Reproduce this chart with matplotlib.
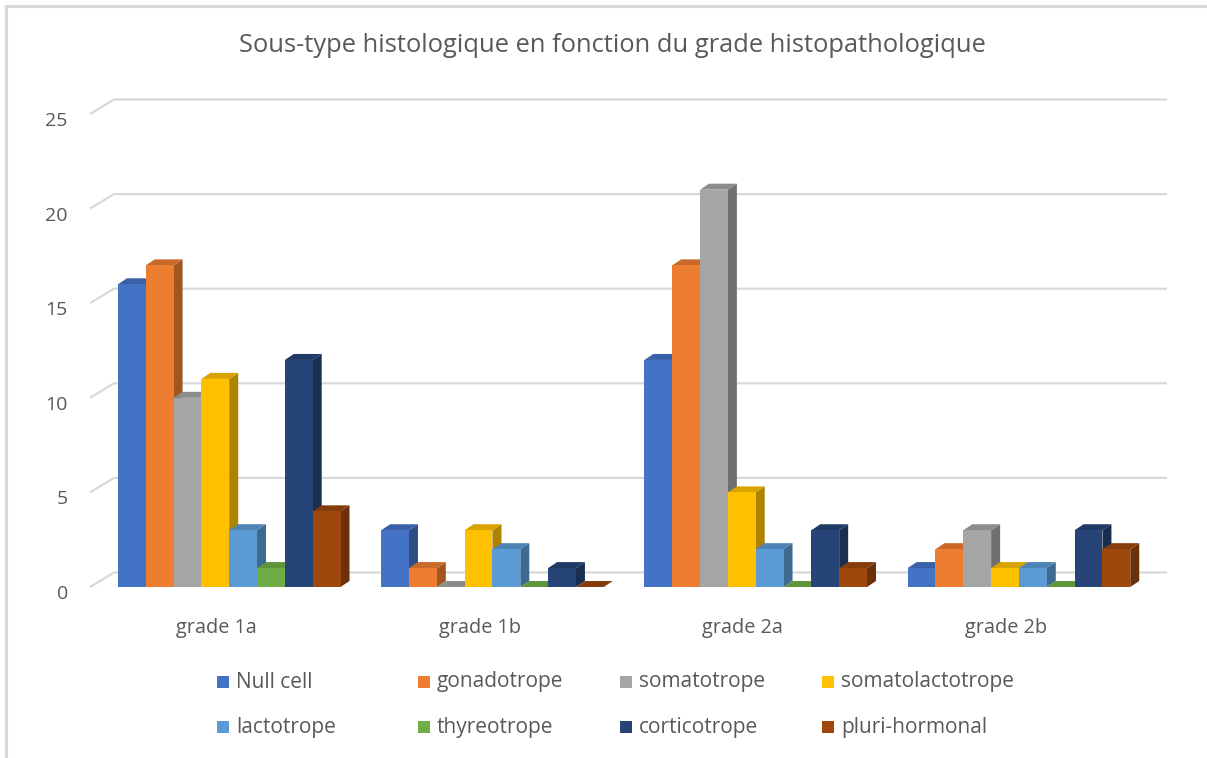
import matplotlib
matplotlib.use("Agg")
import matplotlib.pyplot as plt
from matplotlib.patches import Polygon, Rectangle
from matplotlib.lines import Line2D
import matplotlib.colors as mcolors
import matplotlib.transforms as mtransforms

categories = ["grade 1a", "grade 1b", "grade 2a", "grade 2b"]
series = ["Null cell", "gonadotrope", "somatotrope", "somatolactotrope",
          "lactotrope", "thyreotrope", "corticotrope", "pluri-hormonal"]
values = {
    "Null cell":        [16, 3, 12, 1],
    "gonadotrope":      [17, 1, 17, 2],
    "somatotrope":      [10, 0, 21, 3],
    "somatolactotrope": [11, 3, 5, 1],
    "lactotrope":       [3, 2, 2, 1],
    "thyreotrope":      [1, 0, 0, 0],
    "corticotrope":     [12, 1, 3, 3],
    "pluri-hormonal":   [4, 0, 1, 2],
}
colors = ["#4472C4", "#ED7D31", "#A5A5A5", "#FFC000",
          "#5B9BD5", "#70AD47", "#264478", "#9E480E"]
yticks = [0, 5, 10, 15, 20, 25]
title = "Sous-type histologique en fonction du grade histopathologique"

FONT = ["Open Sans", "DejaVu Sans"]
plt.rcParams['font.family'] = FONT
TXT = "#595959"

W, H = 1207, 758
fig = plt.figure(figsize=(W / 100, H / 100), dpi=100)
fig.patch.set_facecolor("white")

# border (top & left)
fig.add_artist(Line2D([6 / W, 1.0], [1 - 6 / H, 1 - 6 / H], color="#d9d9d9", lw=2.2))
fig.add_artist(Line2D([6 / W, 6 / W], [0, 1 - 6 / H], color="#d9d9d9", lw=2.2))

x0, x1 = 90, 1143
y0, y1 = 587, 114
ax = fig.add_axes([x0 / W, 1 - y0 / H, (x1 - x0) / W, (y0 - y1) / H])
ax.set_xlim(0, 4)
ax.set_ylim(0, 25)
for s in ax.spines.values():
    s.set_visible(False)

px_x = (x1 - x0) / 4.0
px_y = (y0 - y1) / 25.0
wdx, wdy = 24 / px_x, 14.5 / px_y   # back wall offset
bdx, bdy = 9 / px_x, 6 / px_y       # bar depth

# gridlines on back wall + side wall diagonals
for t in yticks:
    ax.plot([0, wdx, 4 + wdx], [t, t + wdy, t + wdy], color="#d9d9d9",
            lw=1.6, zorder=0, clip_on=False, solid_capstyle="butt")

ax.set_yticks(yticks)
ax.set_yticklabels([str(t) for t in yticks], fontsize=14, color=TXT)
ax.set_xticks([i + 0.48 for i in range(len(categories))])
ax.set_xticklabels(categories, fontsize=14.3, color=TXT)
ax.tick_params(axis="y", length=0, pad=16)
ax.tick_params(axis="x", length=0, pad=22)
off = mtransforms.ScaledTranslation(0, -5 / 100, fig.dpi_scale_trans)
for lab in ax.get_yticklabels():
    lab.set_transform(lab.get_transform() + off)

def shade(c, f):
    r, g, b = mcolors.to_rgb(c)
    return (r * f, g * f, b * f)

bw = 0.1057
start = 0.106
z = 2
for i in range(len(categories)):
    for j, name in enumerate(series):
        v = values[name][i]
        c = colors[j]
        xl = i + start + j * bw
        xr = xl + bw
        ax.bar(xl, v, width=bw, align="edge", color=c, zorder=z,
               edgecolor="none", clip_on=False)
        side = Polygon([(xr, 0), (xr + bdx, bdy), (xr + bdx, v + bdy), (xr, v)],
                       closed=True, facecolor=shade(c, 0.68), edgecolor="none",
                       zorder=z - 0.5, clip_on=False)
        top = Polygon([(xl, v), (xl + bdx, v + bdy), (xr + bdx, v + bdy), (xr, v)],
                      closed=True, facecolor=shade(c, 0.85), edgecolor="none",
                      zorder=z - 0.5, clip_on=False)
        ax.add_patch(side)
        ax.add_patch(top)
        z += 1

fig.text(0.5 * (237 + 988) / W, 1 - 46 / H, title, ha="center", va="center",
         fontsize=18.4, color=TXT)

# legend (manual, equal-width columns like Excel)
leg_x = [217, 418, 620, 822]
leg_y = [682, 727]
sq = 12
for k, name in enumerate(series):
    r, col = divmod(k, 4)
    xs = leg_x[col]
    yc = leg_y[r]
    fig.add_artist(Rectangle((xs / W, 1 - (yc + sq / 2) / H), sq / W, sq / H,
                             facecolor=colors[k], edgecolor="none",
                             transform=fig.transFigure))
    fig.text((xs + sq + 7) / W, 1 - yc / H, name, ha="left", va="center",
             fontsize=15, color=TXT)

fig.savefig("out.png", dpi=100, facecolor="white")
